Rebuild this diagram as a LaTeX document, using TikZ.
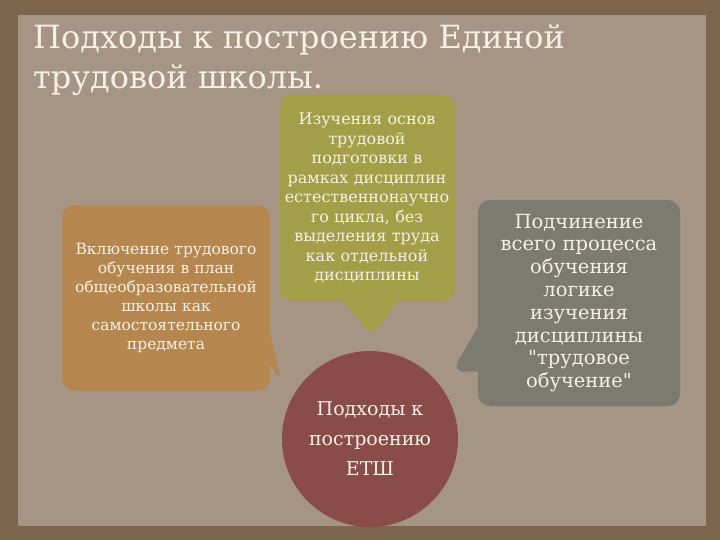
\documentclass[tikz,border=0pt]{standalone}
\usepackage{fontspec}
\setmainfont{DejaVu Serif}[Ligatures=TeXOff]
\usetikzlibrary{shapes.callouts}
\usetikzlibrary{positioning}

\definecolor{frameBrown}{HTML}{7D654E}
\definecolor{paperGrey}{HTML}{A69484}
\definecolor{paleText}{HTML}{F4F0E4}
\definecolor{ochreBox}{HTML}{B5874F}
\definecolor{oliveBox}{HTML}{A29F48}
\definecolor{slateBox}{HTML}{7D7A72}
\definecolor{maroonDisc}{HTML}{8A4C49}

\begin{document}
\begin{tikzpicture}[x=1pt,y=-1pt]
\tikzset{
    noteBox/.style={
                   rectangle callout,
                   rounded corners=12pt,
                   text=paleText,
                   align=center,
                   inner sep=0pt
    }
}
    % frame and sheet
    \fill[frameBrown] (0,0) rectangle (720,540);
    \fill[paperGrey] (18,15) rectangle (706,526);

    \node (title)[anchor=north west, inner sep=0pt, align=left, text=paleText,
        font=\fontsize{32}{40}\selectfont] at (33,24)
        {Подходы к построению Единой\\трудовой школы.};

    \coordinate (leftTip) at (282,383);
    \coordinate (midTip) at (372,337);
    \coordinate (rightTip) at (452,372);

    \node (etsh)[circle, fill=maroonDisc, minimum size=176pt, text=paleText,
        align=center, font=\fontsize{19}{30}\selectfont] at (370,439)
        {Подходы к\\построению\\ЕТШ};

    \node (plan)[noteBox, fill=ochreBox, minimum width=208pt, minimum height=185pt,
        text width=204pt, font=\fontsize{15.5}{19}\selectfont,
        callout absolute pointer=(leftTip), callout pointer width=30pt] at (166,298)
        {Включение трудового\\обучения в план\\общеобразовательной\\школы как\\самостоятельного\\предмета};

    \node (nature)[noteBox, fill=oliveBox, minimum width=176pt, minimum height=206pt,
        text width=174pt, font=\fontsize{16}{19.5}\selectfont,
        callout absolute pointer=(midTip), callout pointer width=55pt] at (367,198)
        {Изучения основ\\трудовой\\подготовки в\\рамках дисциплин\\естественнонаучно\\го цикла, без\\выделения труда\\как отдельной\\дисциплины};

    \node (logic)[noteBox, fill=slateBox, minimum width=202pt, minimum height=206pt,
        text width=198pt, font=\fontsize{19.5}{22.8}\selectfont,
        callout absolute pointer=(rightTip), callout pointer width=45pt] at (579,303)
        {Подчинение\\всего процесса\\обучения\\логике\\изучения\\дисциплины\\"трудовое\\обучение"};

\end{tikzpicture}
\end{document}
